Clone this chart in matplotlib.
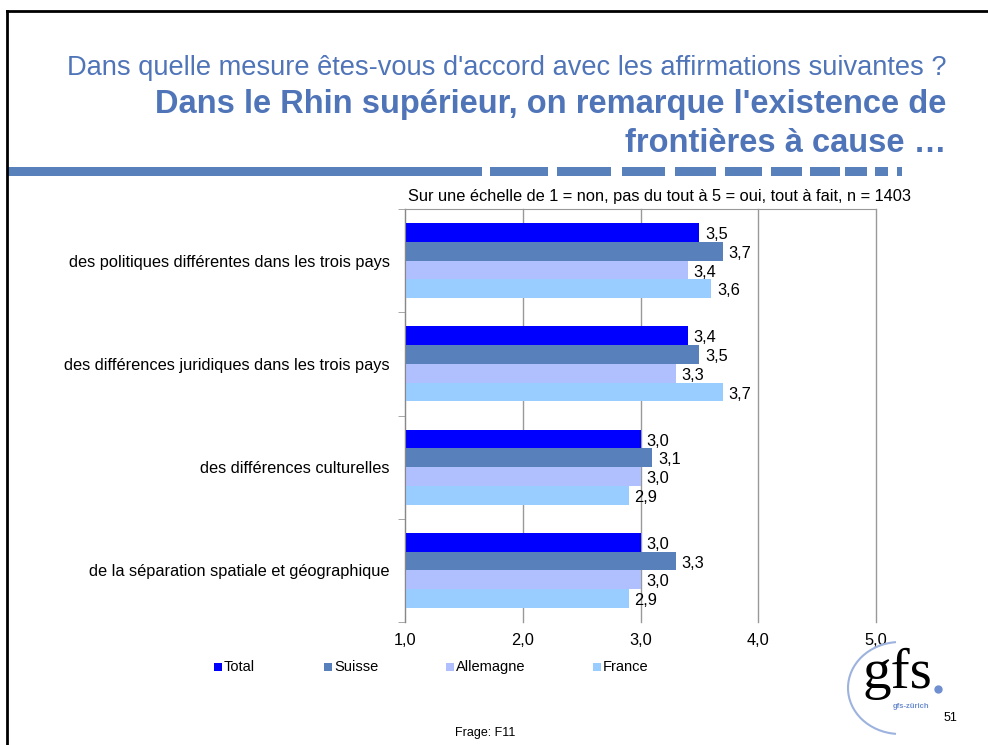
import numpy as np
import matplotlib.pyplot as plt
from matplotlib.patches import Arc, Rectangle
from matplotlib.lines import Line2D

plt.rcParams['font.family'] = ['Liberation Sans', 'DejaVu Sans']

categories = ['des politiques différentes dans les trois pays',
              'des différences juridiques dans les trois pays',
              'des différences culturelles',
              'de la séparation spatiale et géographique']
series = ['Total', 'Suisse', 'Allemagne', 'France']
total = [3.5, 3.4, 3.0, 3.0]
suisse = [3.7, 3.5, 3.1, 3.3]
allemagne = [3.4, 3.3, 3.0, 3.0]
france = [3.6, 3.7, 2.9, 2.9]
colors = ['#0000FF', '#5880BB', '#B0C0FF', '#99CCFF']
xticks = [1.0, 2.0, 3.0, 4.0, 5.0]

W, H = 988, 745
fig = plt.figure(figsize=(W / 100, H / 100), dpi=100)

def fx(px):
    return px / W

def fy(py):
    return 1 - py / H

# slide frame
fig.add_artist(Line2D([fx(7), fx(988)], [fy(11), fy(11)], color='black', lw=2))
fig.add_artist(Line2D([fx(7), fx(7)], [fy(11), fy(745)], color='black', lw=2))

# titles
blue = '#4F74B8'
fig.text(fx(946), fy(68), "Dans quelle mesure êtes-vous d'accord avec les affirmations suivantes ?",
         ha='right', va='center', fontsize=19.6, color=blue)
fig.text(fx(946), fy(104), "Dans le Rhin supérieur, on remarque l'existence de",
         ha='right', va='center', fontsize=23.5, color=blue, fontweight='bold')
fig.text(fx(946), fy(143), "frontières à cause …",
         ha='right', va='center', fontsize=23.5, color=blue, fontweight='bold')

# decorative dashed band
segs = [(8, 482), (490, 548), (557, 611), (622, 665), (675, 716), (725, 762),
        (771, 802), (810, 840), (845, 867), (875, 888), (897, 902)]
for a, b in segs:
    fig.add_artist(Rectangle((fx(a), fy(176)), fx(b - a), 9 / H, color='#5880BB',
                             transform=fig.transFigure, lw=0))

fig.text(fx(408), fy(196), 'Sur une échelle de 1 = non, pas du tout à 5 = oui, tout à fait, n = 1403',
         ha='left', va='center', fontsize=11.8)

ax = fig.add_axes([fx(405), fy(622), fx(876 - 405), (622 - 209) / H])
y = np.arange(len(categories))
h = 0.182
vals = [total, suisse, allemagne, france]
for i, (name, v, c) in enumerate(zip(series, vals, colors)):
    pos = y - 1.5 * h + i * h
    ax.barh(pos, np.array(v) - 1, left=1, height=h, color=c, label=name)
    for p, val in zip(pos, v):
        ax.text(val + 0.05, p + 0.02, f'{val:.1f}'.replace('.', ','), va='center',
                ha='left', fontsize=11.8)

ax.set_xlim(1, 5)
ax.set_ylim(3.5, -0.5)
ax.set_xticks(xticks)
ax.set_xticklabels([f'{t:.1f}'.replace('.', ',') for t in xticks], fontsize=11.8)
ax.tick_params(axis='x', length=0, pad=8)
ax.set_yticks(y)
ax.set_yticklabels(categories, fontsize=11.8)
ax.tick_params(axis='y', which='major', length=0, pad=11)
ax.set_yticks(np.arange(-0.5, 4, 1), minor=True)
ax.tick_params(axis='y', which='minor', length=5, color='#999999')
ax.grid(axis='x', color='#999999', lw=1)
for gl in ax.get_xgridlines():
    gl.set_clip_on(False)
ax.set_axisbelow(True)
for s in ['right', 'bottom']:
    ax.spines[s].set_visible(False)
ax.spines['left'].set_color('#888888')
ax.spines['top'].set_color('#999999')

# legend
leg_x = [218, 328, 450, 597]
for name, c, lx in zip(series, colors, leg_x):
    fig.add_artist(Rectangle((fx(lx - 4), fy(671)), fx(8), 8 / H, color=c,
                             transform=fig.transFigure, lw=0))
    fig.text(fx(lx + 6), fy(667), name, ha='left', va='center', fontsize=10.5)

# logo
lax = fig.add_axes([fx(840), fy(740), fx(110), 100 / H])
lax.set_xlim(840, 950)
lax.set_ylim(740, 640)
lax.axis('off')
lax.add_patch(Arc((900, 688), 104, 92, theta1=95, theta2=265, color='#9DB3DE', lw=1.5))
lax.text(897, 674, 'gfs', ha='center', va='center', fontsize=41,
         family=['Liberation Serif', 'DejaVu Serif'])
lax.plot([938], [689], 'o', color='#6F8FD0', ms=5)
lax.text(911, 706, 'gfs-zürich', ha='center', va='center', fontsize=5.5, color='#6F8FD0',
         fontweight='bold')

fig.text(fx(950), fy(718), '51', ha='center', va='center', fontsize=9)
fig.text(fx(485), fy(733), 'Frage: F11', ha='center', va='center', fontsize=9)

fig.savefig('out.png', dpi=100)
